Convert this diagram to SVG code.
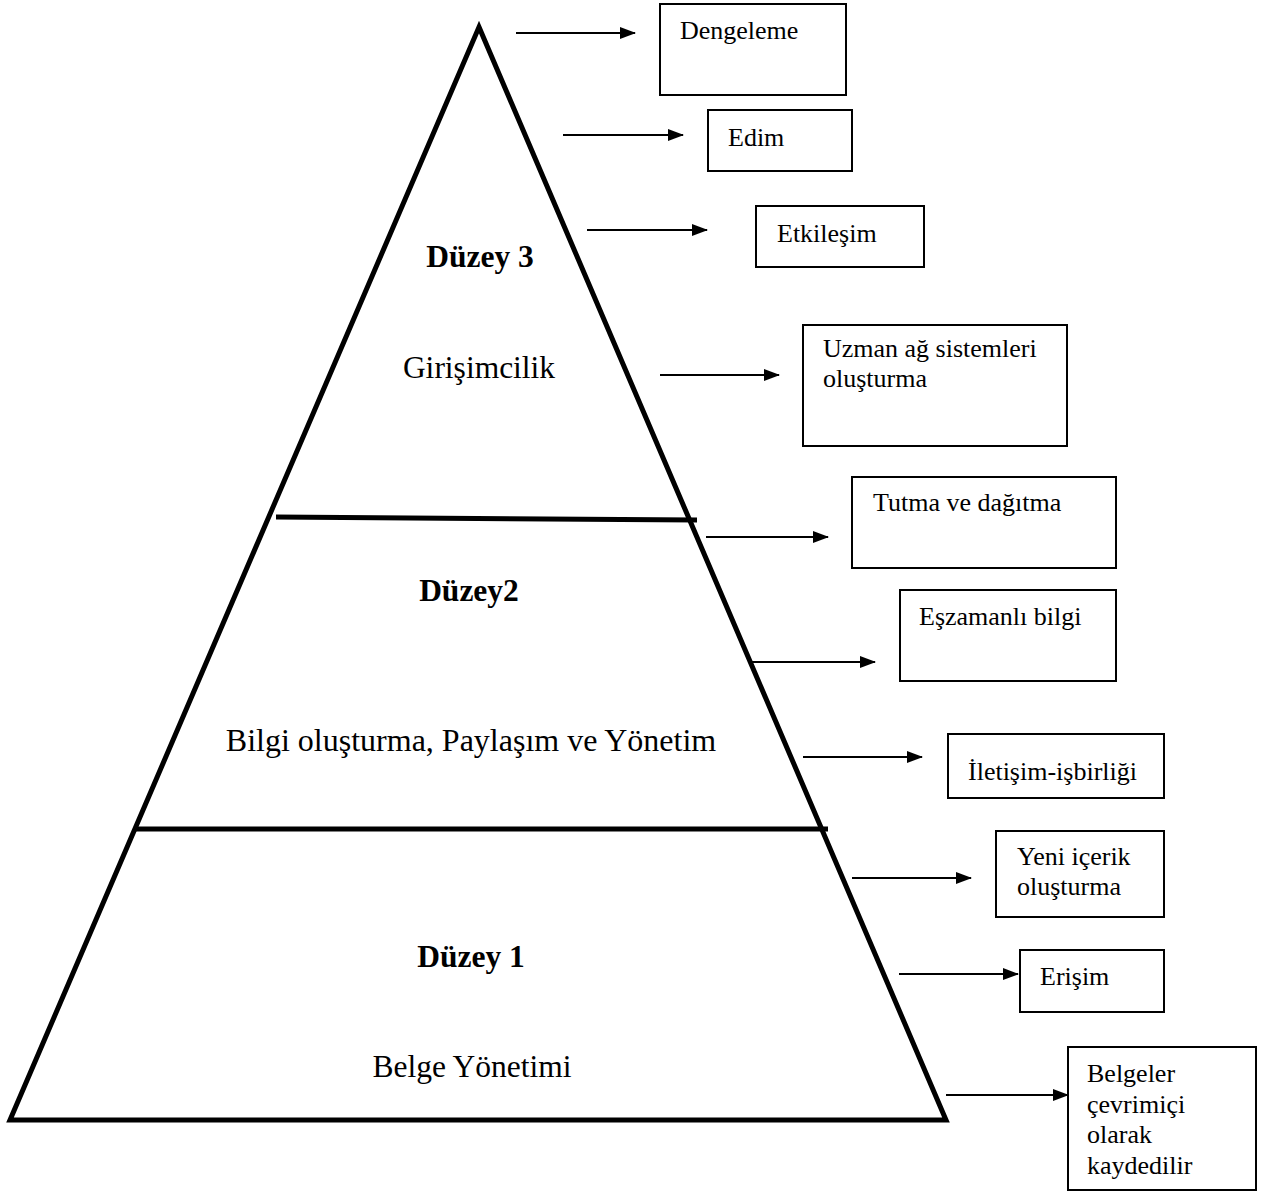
<svg xmlns="http://www.w3.org/2000/svg" width="1261" height="1191" viewBox="0 0 1261 1191">
<style>
.box{fill:#fff;stroke:#000;stroke-width:2}
.bt{font-family:"Liberation Serif","Times New Roman",serif;font-size:26px;fill:#000}
.mt{font-family:"Liberation Serif","Times New Roman",serif;font-size:31.5px;fill:#000;text-anchor:middle}
.hd{font-weight:bold}
.arr{stroke:#000;stroke-width:2;fill:none;marker-end:url(#ah)}
.thick{stroke:#000;stroke-width:5;fill:none}
</style>
<defs>
<marker id="ah" markerWidth="16" markerHeight="12" refX="15" refY="6" orient="auto" markerUnits="userSpaceOnUse">
<path d="M0,0 L16,6 L0,12 Z" fill="#000"/>
</marker>
</defs>
<rect width="1261" height="1191" fill="#fff"/>
<g id="pyramid">
<polygon class="thick" points="479,27 946,1120 10,1120" stroke-linejoin="miter"/>
<line class="thick" x1="276" y1="517" x2="697" y2="520"/>
<line class="thick" x1="134" y1="829" x2="828" y2="829"/>
<text class="mt hd" x="480" y="267">Düzey 3</text>
<text class="mt" x="479" y="378">Girişimcilik</text>
<text class="mt hd" x="469" y="601">Düzey2</text>
<text class="mt" x="471" y="751" style="font-size:32px">Bilgi oluşturma, Paylaşım ve Yönetim</text>
<text class="mt hd" x="471" y="967">Düzey 1</text>
<text class="mt" x="472" y="1077">Belge Yönetimi</text>
</g>
<g id="connectors">
<line class="arr" x1="516" y1="33" x2="635" y2="33"/>
<line class="arr" x1="563" y1="135" x2="683" y2="135"/>
<line class="arr" x1="587" y1="230" x2="707" y2="230"/>
<line class="arr" x1="660" y1="375" x2="779" y2="375"/>
<line class="arr" x1="706" y1="537" x2="828" y2="537"/>
<line class="arr" x1="752" y1="662" x2="875" y2="662"/>
<line class="arr" x1="803" y1="757" x2="922" y2="757"/>
<line class="arr" x1="852" y1="878" x2="971" y2="878"/>
<line class="arr" x1="899" y1="974" x2="1018" y2="974"/>
<line class="arr" x1="946" y1="1095" x2="1068" y2="1095"/>
</g>
<g id="n-dengeleme"><rect class="box" x="660" y="4" width="186" height="91"/><text class="bt" x="680" y="39">Dengeleme</text></g>
<g id="n-edim"><rect class="box" x="708" y="110" width="144" height="61"/><text class="bt" x="728" y="146">Edim</text></g>
<g id="n-etkilesim"><rect class="box" x="756" y="206" width="168" height="61"/><text class="bt" x="777" y="242">Etkileşim</text></g>
<g id="n-uzman"><rect class="box" x="803" y="325" width="264" height="121"/><text class="bt" x="823" y="357">Uzman ağ sistemleri</text><text class="bt" x="823" y="387">oluşturma</text></g>
<g id="n-tutma"><rect class="box" x="852" y="477" width="264" height="91"/><text class="bt" x="873" y="511">Tutma ve dağıtma</text></g>
<g id="n-eszamanli"><rect class="box" x="900" y="590" width="216" height="91"/><text class="bt" x="919" y="625">Eşzamanlı bilgi</text></g>
<g id="n-iletisim"><rect class="box" x="948" y="734" width="216" height="64"/><text class="bt" x="968" y="780">İletişim-işbirliği</text></g>
<g id="n-yeni"><rect class="box" x="996" y="831" width="168" height="86"/><text class="bt" x="1017" y="865">Yeni içerik</text><text class="bt" x="1017" y="895">oluşturma</text></g>
<g id="n-erisim"><rect class="box" x="1020" y="950" width="144" height="62"/><text class="bt" x="1040" y="985">Erişim</text></g>
<g id="n-belgeler"><rect class="box" x="1068" y="1047" width="188" height="143"/><text class="bt" x="1087" y="1082">Belgeler</text><text class="bt" x="1087" y="1113">çevrimiçi</text><text class="bt" x="1087" y="1143">olarak</text><text class="bt" x="1087" y="1174">kaydedilir</text></g>
</svg>
